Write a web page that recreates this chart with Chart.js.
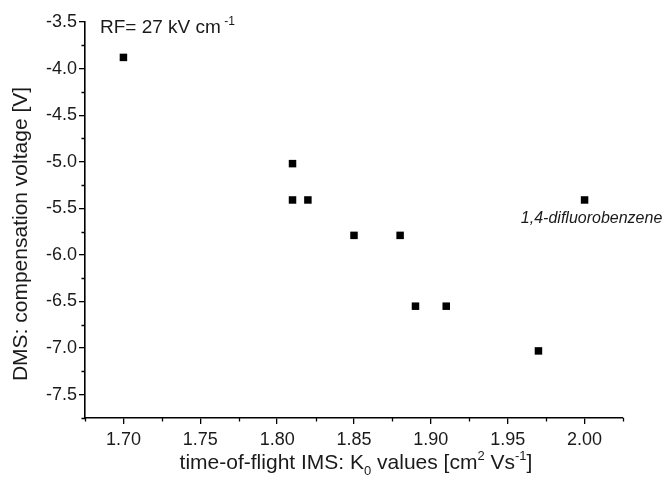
<!DOCTYPE html>
<html><head><meta charset="utf-8">
<script src="https://cdn.jsdelivr.net/npm/chart.js@4"></script>
<style>html,body{margin:0;padding:0;background:#fff}#wrap{width:663px;height:482px}</style>
</head><body><div id="wrap"><canvas id="c" width="663" height="482"></canvas></div>
<script>
const kValues = [1.70, 1.81, 1.81, 1.82, 1.85, 1.88, 1.89, 1.91, 1.97, 2.00];
const compVoltage = [-3.88, -5.02, -5.41, -5.41, -5.79, -5.79, -6.55, -6.55, -7.03, -5.41];
const xTickLabels = [1.70, 1.75, 1.80, 1.85, 1.90, 1.95, 2.00];
const yTickLabels = [-3.5, -4.0, -4.5, -5.0, -5.5, -6.0, -6.5, -7.0, -7.5];
const annotationText = "1,4-difluorobenzene";
const annotationIndex = 9;

const FONT = "'Liberation Sans', Arial, sans-serif";
const TXT = '#1a1a1a';

function withMinor(majors, step, min, max) {
  const out = [];
  majors.forEach(v => out.push(v));
  majors.forEach(v => { out.push(+(v + step).toFixed(4)); out.push(+(v - step).toFixed(4)); });
  return [...new Set(out)].filter(v => v >= min - 1e-9 && v <= max + 1e-9).sort((a,b)=>a-b);
}
const isMajor = (list, v) => list.some(t => Math.abs(t - v) < 1e-6);
const X_MIN = 1.675, X_MAX = 2.025, Y_MIN = -7.75, Y_MAX = -3.5;

const textPlugin = {
  id: 'texts',
  afterDraw(chart) {
    const ctx = chart.ctx, ca = chart.chartArea;
    const xs = chart.scales.x, ys = chart.scales.y;
    ctx.save();
    // minor ticks
    ctx.strokeStyle = '#000';
    ctx.lineWidth = 1.3;
    ctx.beginPath();
    xs.ticks.forEach(t => {
      if (isMajor(xTickLabels, t.value)) return;
      const px = Math.round(xs.getPixelForValue(t.value)) + 0.5;
      ctx.moveTo(px, ca.bottom); ctx.lineTo(px, ca.bottom + 3.5);
    });
    ys.ticks.forEach(t => {
      if (isMajor(yTickLabels, t.value)) return;
      const py = Math.round(ys.getPixelForValue(t.value)) + 0.5;
      ctx.moveTo(ca.left, py); ctx.lineTo(ca.left - 3.5, py);
    });
    ctx.stroke();

    ctx.fillStyle = TXT;
    ctx.textBaseline = 'alphabetic';
    // RF label
    ctx.font = `19px ${FONT}`;
    ctx.textAlign = 'left';
    let x0 = 100, y0 = 33;
    const t1 = 'RF= 27 kV cm';
    ctx.fillText(t1, x0, y0);
    let w = ctx.measureText(t1).width;
    ctx.font = `12px ${FONT}`;
    ctx.fillText(' -1', x0 + w, y0 - 8);
    // annotation
    ctx.font = `italic 16px ${FONT}`;
    ctx.textAlign = 'center';
    const ax = xs.getPixelForValue(kValues[annotationIndex]);
    const ay = ys.getPixelForValue(compVoltage[annotationIndex]);
    ctx.fillText(annotationText, ax + 7, ay + 23);
    // x title with sub/superscripts
    const parts = [
      ['time-of-flight IMS: K', 21, 0],
      ['0', 13, 6],
      [' values [cm', 21, 0],
      ['2', 13, -9],
      [' Vs', 21, 0],
      ['-1', 13, -9],
      [']', 21, 0]
    ];
    let total = 0;
    parts.forEach(p => { ctx.font = `${p[1]}px ${FONT}`; total += ctx.measureText(p[0]).width; });
    let cx = (ca.left + ca.right) / 2 - total / 2 + 2;
    const by = 469;
    ctx.textAlign = 'left';
    parts.forEach(p => {
      ctx.font = `${p[1]}px ${FONT}`;
      ctx.fillText(p[0], cx, by + p[2]);
      cx += ctx.measureText(p[0]).width;
    });
    // y title
    ctx.translate(27, (ca.top + ca.bottom) / 2 + 14);
    ctx.rotate(-Math.PI / 2);
    ctx.font = `21px ${FONT}`;
    ctx.textAlign = 'center';
    ctx.fillText('DMS: compensation voltage [V]', 0, 0);
    ctx.restore();
  }
};

const majorTickColor = (list) => (c) => (c.tick && isMajor(list, c.tick.value)) ? '#000' : 'rgba(0,0,0,0)';

new Chart(document.getElementById('c'), {
  type: 'scatter',
  data: {
    datasets: [{
      data: kValues.map((k, i) => ({ x: k, y: compVoltage[i] })),
      pointStyle: 'rect',
      pointRadius: 5.3,
      pointHoverRadius: 5.3,
      backgroundColor: '#000',
      borderColor: '#000',
      borderWidth: 0
    }]
  },
  options: {
    responsive: false,
    animation: false,
    devicePixelRatio: 1,
    layout: { padding: { left: 0, right: 40, top: 22, bottom: 0 } },
    plugins: { legend: { display: false }, tooltip: { enabled: false } },
    scales: {
      x: {
        type: 'linear', min: X_MIN, max: X_MAX,
        afterBuildTicks(s) { s.ticks = withMinor(xTickLabels, 0.025, X_MIN, X_MAX).map(v => ({ value: v })); },
        afterFit(s) { s.height = 64; },
        grid: { display: true, drawOnChartArea: false, drawTicks: true, tickLength: 6, color: 'rgba(0,0,0,0)', tickColor: majorTickColor(xTickLabels), lineWidth: 1.3 },
        border: { display: true, color: '#000', width: 1.6 },
        ticks: {
          autoSkip: false, maxRotation: 0, padding: 5, color: TXT,
          font: { family: FONT, size: 18 },
          callback(v) { return isMajor(xTickLabels, v) ? v.toFixed(2) : ''; }
        }
      },
      y: {
        type: 'linear', min: Y_MIN, max: Y_MAX,
        afterBuildTicks(s) { s.ticks = withMinor(yTickLabels, 0.25, Y_MIN, Y_MAX).map(v => ({ value: v })); },
        afterFit(s) { s.width = 85; },
        grid: { display: true, drawOnChartArea: false, drawTicks: true, tickLength: 6, color: 'rgba(0,0,0,0)', tickColor: majorTickColor(yTickLabels), lineWidth: 1.3 },
        border: { display: true, color: '#000', width: 1.6 },
        ticks: {
          autoSkip: false, padding: 2, color: TXT,
          font: { family: FONT, size: 18 },
          callback(v) { return isMajor(yTickLabels, v) ? v.toFixed(1) : ''; }
        }
      }
    }
  },
  plugins: [textPlugin]
});
</script>
</body></html>
